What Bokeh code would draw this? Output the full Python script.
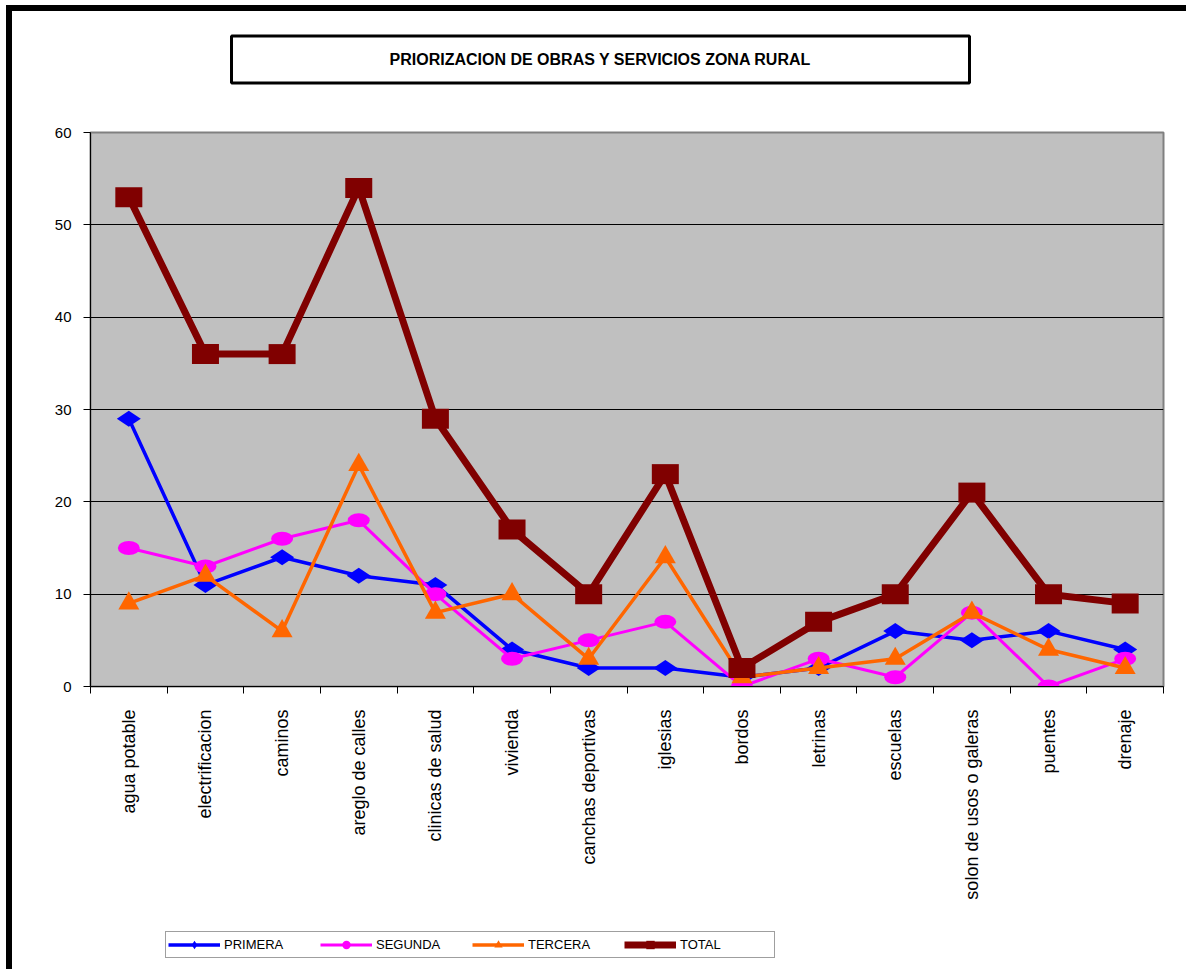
import math
from bokeh.plotting import figure
from bokeh.layouts import column
from bokeh.models import Range1d, FixedTicker, Legend, LegendItem, Label
from bokeh.embed import file_html
from bokeh.resources import INLINE

# ---- data ----
categories = ["agua potable", "electrificacion", "caminos", "areglo de calles",
              "clinicas de salud", "vivienda", "canchas deportivas", "iglesias",
              "bordos", "letrinas", "escuelas", "solon de usos o galeras",
              "puentes", "drenaje"]
primera = [29, 11, 14, 12, 11, 4, 2, 2, 1, 2, 6, 5, 6, 4]
segunda = [15, 13, 16, 18, 10, 3, 5, 7, 0, 3, 1, 8, 0, 3]
tercera = [9, 12, 6, 24, 8, 10, 3, 14, 1, 2, 3, 8, 4, 2]
total = [53, 36, 36, 54, 29, 17, 10, 23, 2, 7, 10, 21, 10, 9]
series_names = ["PRIMERA", "SEGUNDA", "TERCERA", "TOTAL"]
y_ticks = [0, 10, 20, 30, 40, 50, 60]
title_text = "PRIORIZACION DE OBRAS Y SERVICIOS ZONA RURAL"

FONT = "Liberation Sans"
n = len(categories)
x = list(range(1, n + 1))

colors = ["#0000FF", "#FF00FF", "#FF6600", "#800000"]
widths = [3.5, 3, 3.5, 7]
markers = ["diamond", "circle", "triangle", "square"]
series = [primera, segunda, tercera, total]

W = 1174

# ---------------- title strip ----------------
tf = figure(width=W, height=109, output_backend="svg", toolbar_location=None,
            x_range=Range1d(0, 1), y_range=Range1d(0, 1),
            x_axis_location=None, y_axis_location=None, min_border=0,
            background_fill_color="white", border_fill_color="white")
tf.outline_line_color = None
tf.grid.visible = False
tf.add_layout(Label(x=510, y=61, x_units="screen", y_units="screen",
                    text=title_text, text_align="center", text_baseline="middle",
                    text_font=FONT, text_font_style="bold", text_font_size="16px",
                    text_color="black", border_line_color="black",
                    border_line_width=3, background_fill_color="white",
                    padding=dict(left=158, right=158, top=15, bottom=15)))

# ---------------- main chart ----------------
p = figure(width=W, height=805, output_backend="svg", toolbar_location=None,
           x_range=Range1d(0.5, n + 0.5), y_range=Range1d(y_ticks[0], y_ticks[-1]),
           min_border_left=78, min_border_right=23, min_border_top=12,
           min_border_bottom=239, background_fill_color="#C0C0C0",
           border_fill_color="white")

p.outline_line_color = "#808080"
p.outline_line_width = 2

# grid
p.xgrid.visible = False
p.ygrid.grid_line_color = "black"
p.ygrid.grid_line_width = 1

# y axis
p.yaxis.ticker = FixedTicker(ticks=y_ticks)
p.yaxis.axis_line_color = "black"
p.yaxis.major_tick_out = 7
p.yaxis.major_tick_in = 0
p.yaxis.major_tick_line_color = "black"
p.yaxis.minor_tick_line_color = None
p.yaxis.major_label_text_font = FONT
p.yaxis.major_label_text_font_size = "15px"
p.yaxis.major_label_text_color = "black"
p.yaxis.major_label_standoff = 12

# x axis: labels at category centres, ticks at boundaries
p.xaxis.ticker = FixedTicker(ticks=x, minor_ticks=[i + 0.5 for i in range(n + 1)])
p.xaxis.major_label_overrides = {xi: c for xi, c in zip(x, categories)}
p.xaxis.major_label_orientation = math.pi / 2
p.xaxis.major_tick_out = 0
p.xaxis.major_tick_in = 0
p.xaxis.minor_tick_out = 7
p.xaxis.minor_tick_in = 0
p.xaxis.minor_tick_line_color = "black"
p.xaxis.axis_line_color = "black"
p.xaxis.major_label_text_font = FONT
p.xaxis.major_label_text_font_size = "18px"
p.xaxis.major_label_text_color = "black"
p.xaxis.major_label_standoff = 16

# PRIMERA: blue diamonds
p.line(x, primera, line_color=colors[0], line_width=widths[0], line_join="round")
p.scatter(x, primera, marker="diamond", size=24, angle=math.pi / 2,
          fill_color=colors[0], line_color=None)
# SEGUNDA: magenta circles
p.line(x, segunda, line_color=colors[1], line_width=widths[1], line_join="round")
p.ellipse(x, segunda, width=22, height=14, width_units="screen",
          height_units="screen", fill_color=colors[1], line_color=None)
# TERCERA: orange triangles
p.line(x, tercera, line_color=colors[2], line_width=widths[2], line_join="round")
p.scatter(x, tercera, marker="triangle", size=21, fill_color=colors[2],
          line_color=None)
# TOTAL: dark red squares
p.line(x, total, line_color=colors[3], line_width=widths[3], line_join="round")
p.rect(x, total, width=27, height=20, width_units="screen", height_units="screen",
       fill_color=colors[3], line_color=None)

# ---------------- legend strip ----------------
lg = figure(width=W, height=44, output_backend="svg", toolbar_location=None,
            x_range=Range1d(-20, -19), y_range=Range1d(-20, -19),
            x_axis_location=None, y_axis_location=None, min_border=0,
            background_fill_color="white", border_fill_color="white")
lg.outline_line_color = None
lg.grid.visible = False

items = []
for name, vals, c, w, mk in zip(series_names, series, colors, widths, markers):
    lr = lg.line(x, vals, line_color=c, line_width=w)
    sr = lg.scatter(x, vals, marker=mk, size=10, fill_color=c, line_color=None)
    items.append(LegendItem(label=name, renderers=[lr, sr]))

legend = Legend(items=items, orientation="horizontal", location=(75, 11),
                glyph_width=52, glyph_height=21, label_height=21,
                label_width=92, label_standoff=4, spacing=4, padding=2, margin=0,
                label_text_font=FONT, label_text_font_size="13px",
                label_text_color="black", border_line_color="#404040",
                border_line_width=1, background_fill_color="white",
                background_fill_alpha=1.0)
lg.add_layout(legend)

layout = column(tf, p, lg, spacing=0,
                styles={"border-top": "6px solid black",
                        "border-left": "6px solid black",
                        "margin-left": "6px", "margin-top": "5px"})

open("out.html", "w").write(file_html(layout, INLINE))
